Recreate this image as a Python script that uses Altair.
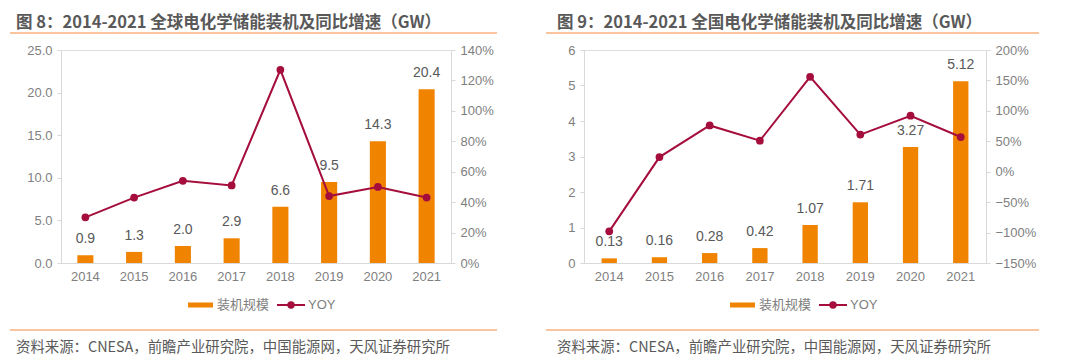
import altair as alt
import pandas as pd

years = ["2014", "2015", "2016", "2017", "2018", "2019", "2020", "2021"]

global_cap = [0.9, 1.3, 2.0, 2.9, 6.6, 9.5, 14.3, 20.4]
global_yoy = [0.30, 0.43, 0.54, 0.51, 1.27, 0.44, 0.50, 0.43]

china_cap = [0.13, 0.16, 0.28, 0.42, 1.07, 1.71, 3.27, 5.12]
china_yoy = [-0.98, 0.24, 0.76, 0.51, 1.56, 0.61, 0.92, 0.57]

title_left = "图 8：2014-2021 全球电化学储能装机及同比增速（GW）"
title_right = "图 9：2014-2021 全国电化学储能装机及同比增速（GW）"
source_text = "资料来源：CNESA，前瞻产业研究院，中国能源网，天风证券研究所"
legend_bar = "装机规模"
legend_line = "YOY"

left_ticks_left = [0, 5, 10, 15, 20, 25]
right_ticks_left = [0, 0.2, 0.4, 0.6, 0.8, 1.0, 1.2, 1.4]
left_ticks_right = [0, 1, 2, 3, 4, 5, 6]
right_ticks_right = [-1.5, -1.0, -0.5, 0, 0.5, 1.0, 1.5, 2.0]

ORANGE = "#F08300"
CRIMSON = "#A50D3C"
AXIS_GRAY = "#D9D9D9"
LABEL_GRAY = "#7F7F7F"
TEXT_GRAY = "#595959"
RULE_ORANGE = "#F9B27C"
FONT = "Liberation Sans, Noto Sans CJK SC, sans-serif"
CJK = "Noto Sans CJK SC, Liberation Sans, sans-serif"


def panel(cap, yoy, title, lticks, lfmt, rticks, rfmt, capfmt, width,
          pad_inner, pad_outer, deco):
    df = pd.DataFrame({"year": years, "cap": cap, "yoy": yoy})
    base = alt.Chart(df)
    x = alt.X("year:N", sort=years, title=None,
              scale=alt.Scale(paddingInner=pad_inner, paddingOuter=pad_outer),
              axis=alt.Axis(labelAngle=0, ticks=False, domainColor=AXIS_GRAY,
                            labelColor=LABEL_GRAY, labelFontSize=13, labelFont=FONT,
                            labelPadding=7))
    yl = alt.Scale(domain=[lticks[0], lticks[-1]], nice=False, zero=False)
    yr = alt.Scale(domain=[rticks[0], rticks[-1]], nice=False, zero=False)

    bars = base.mark_bar(color=ORANGE).encode(
        x=x,
        y=alt.Y("cap:Q", scale=yl, title=None,
                axis=alt.Axis(values=lticks, format=lfmt, grid=False, orient="left",
                              domainColor=AXIS_GRAY, tickColor=AXIS_GRAY, tickSize=4,
                              labelColor=LABEL_GRAY, labelFontSize=13, labelFont=FONT,
                              labelPadding=5)),
    )
    labels = base.mark_text(color=TEXT_GRAY, fontSize=14, font=FONT, baseline="middle",
                            dy=-16).encode(
        x=x,
        y=alt.Y("cap:Q", scale=yl, axis=None),
        text=alt.Text("cap:Q", format=capfmt),
    )
    line = base.mark_line(color=CRIMSON, strokeWidth=2).encode(
        x=x,
        y=alt.Y("yoy:Q", scale=yr, title=None,
                axis=alt.Axis(values=rticks, format=rfmt, grid=False, orient="right",
                              domainColor=AXIS_GRAY, tickColor=AXIS_GRAY, tickSize=4,
                              labelColor=LABEL_GRAY, labelFontSize=13, labelFont=FONT,
                              labelPadding=5)),
    )
    pts = base.mark_circle(color=CRIMSON, size=60, opacity=1).encode(
        x=x,
        y=alt.Y("yoy:Q", scale=yr, axis=None),
    )

    one = pd.DataFrame({"t": [title]})
    ttl = alt.Chart(one).mark_text(font=CJK, fontSize=16.5, fontWeight="bold",
                                   color=TEXT_GRAY, align="left",
                                   baseline="alphabetic").encode(
        x=alt.value(deco["title_x"]), y=alt.value(-22), text="t:N")
    top_rule = alt.Chart(one).mark_rule(color=RULE_ORANGE, strokeWidth=1.5).encode(
        x=alt.value(deco["rule_x"]), x2=alt.value(deco["rule_x2"]), y=alt.value(-17))
    bot_rule = alt.Chart(one).mark_rule(color=RULE_ORANGE, strokeWidth=1.5).encode(
        x=alt.value(deco["rule_x"]), x2=alt.value(deco["rule_x2"]), y=alt.value(280))
    src = alt.Chart(pd.DataFrame({"t": [source_text]})).mark_text(
        font=CJK, fontSize=14.4, color=TEXT_GRAY, align="left", baseline="middle").encode(
        x=alt.value(deco["title_x"]), y=alt.value(298), text="t:N")

    lx = deco["leg_x"]
    leg_rect = alt.Chart(one).mark_rule(color=ORANGE, strokeWidth=5).encode(
        x=alt.value(lx), x2=alt.value(lx + 25), y=alt.value(255))
    leg_t1 = alt.Chart(pd.DataFrame({"t": [legend_bar]})).mark_text(
        font=CJK, fontSize=13, color=LABEL_GRAY, align="left", baseline="middle").encode(
        x=alt.value(lx + 29), y=alt.value(255), text="t:N")
    leg_line = alt.Chart(one).mark_rule(color=CRIMSON, strokeWidth=2).encode(
        x=alt.value(lx + 89), x2=alt.value(lx + 117), y=alt.value(255))
    leg_dot = alt.Chart(one).mark_circle(color=CRIMSON, size=55, opacity=1).encode(
        x=alt.value(lx + 103), y=alt.value(255))
    leg_t2 = alt.Chart(pd.DataFrame({"t": [legend_line]})).mark_text(
        font=FONT, fontSize=13, color=LABEL_GRAY, align="left", baseline="middle").encode(
        x=alt.value(lx + 120), y=alt.value(255), text="t:N")

    return alt.layer(bars, labels, line, pts, ttl, top_rule, bot_rule, src,
                     leg_rect, leg_t1, leg_line, leg_dot, leg_t2).resolve_scale(
        y="independent").properties(width=width, height=213)


left = panel(global_cap, global_yoy, title_left, left_ticks_left, ".1f",
             right_ticks_left, ".0%", ".1f", 390, 0.67, 0.335,
             {"title_x": -45, "rule_x": -51, "rule_x2": 436, "leg_x": 127})
right = panel(china_cap, china_yoy, title_right, left_ticks_right, "d",
              right_ticks_right, ".0%", ".2f", 402, 0.695, 0.35,
              {"title_x": -27, "rule_x": -38, "rule_x2": 455, "leg_x": 146})

chart = alt.hconcat(left, right, spacing=45).properties(
    padding={"left": 0, "top": 6, "right": 0, "bottom": 0}).configure_view(
    stroke=None).configure(background="white")

chart.save("out.html", embed_options={"renderer": "svg", "actions": False})
